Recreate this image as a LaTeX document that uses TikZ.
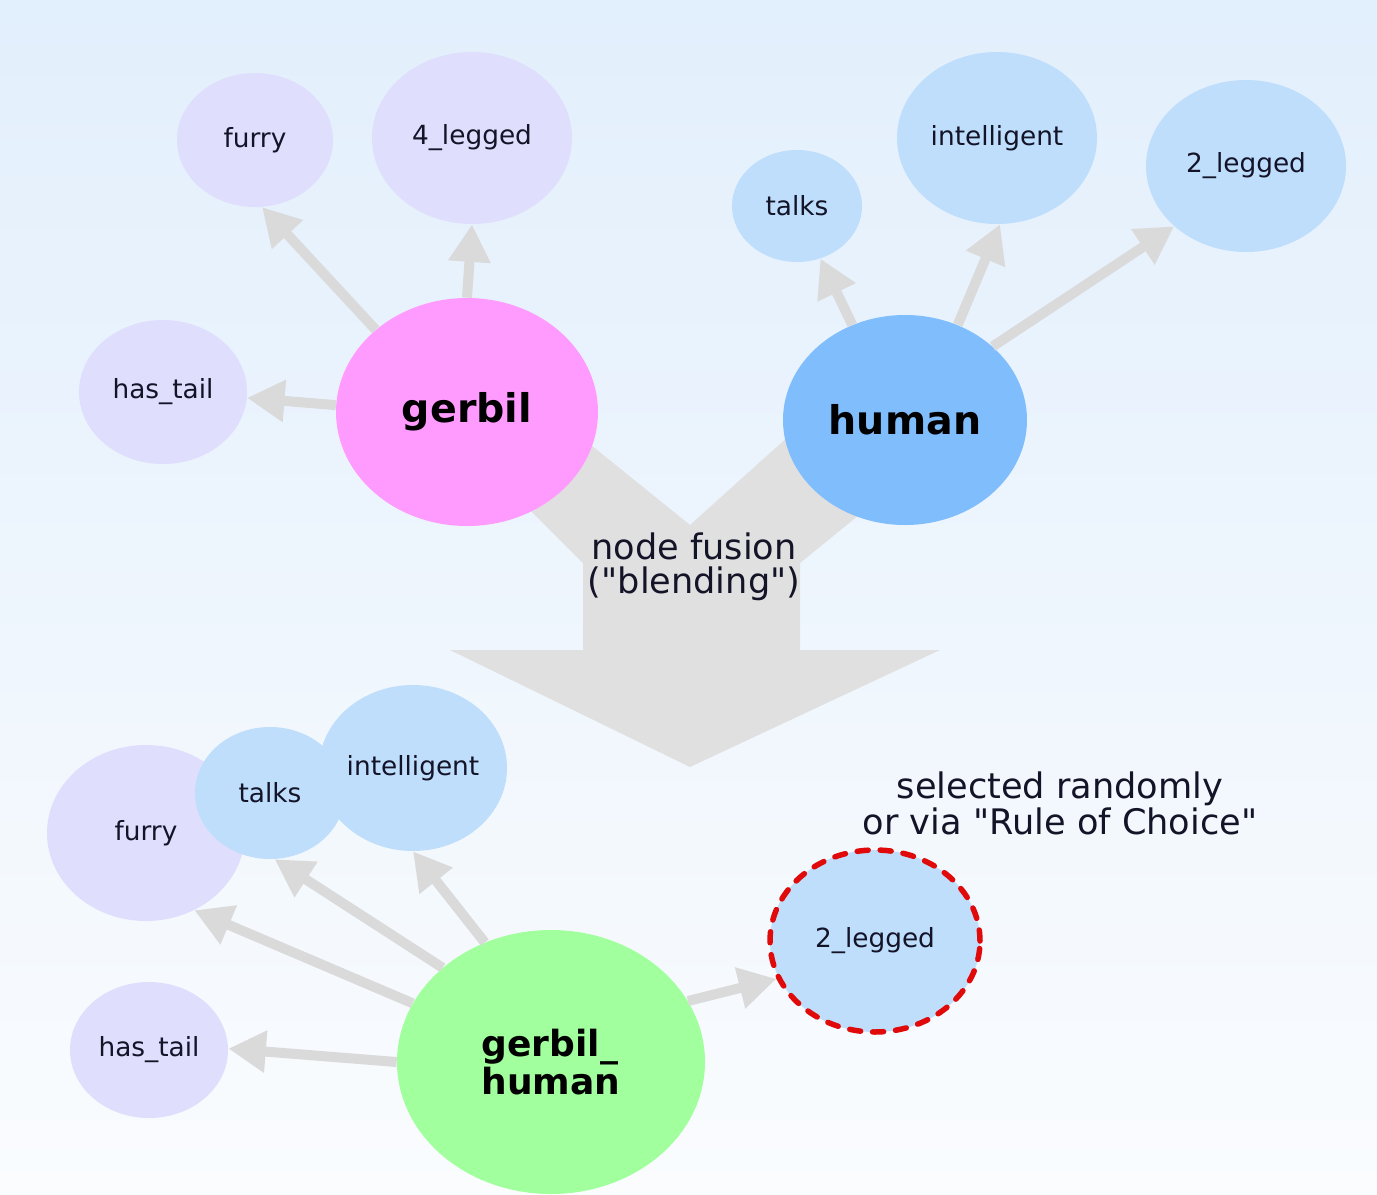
\documentclass[tikz,border=0pt]{standalone}
\usepackage{fontspec}
\setmainfont{DejaVu Sans}
\usepackage{tikz}
\usetikzlibrary{shapes.geometric,arrows.meta}

\definecolor{bgtop}{HTML}{E2EFFC}
\definecolor{bgbot}{HTML}{FAFCFE}
\definecolor{lav}{HTML}{E0DEFD}
\definecolor{lblue}{HTML}{BEDEFC}
\definecolor{hblue}{HTML}{7FBDFD}
\definecolor{pink}{HTML}{FF9BFF}
\definecolor{green}{HTML}{A2FF9D}
\definecolor{arr}{HTML}{DADADA}
\definecolor{fus}{HTML}{E0E0E0}
\definecolor{txt}{HTML}{141428}
\definecolor{dashred}{HTML}{E00A0A}

\begin{document}
\begin{tikzpicture}[x=0.2mm,y=-0.2mm,
  blob/.style={ellipse,inner sep=0pt,text=txt,font=\fontsize{15}{18}\selectfont},
  sz/.style 2 args={minimum width=#1*0.4mm,minimum height=#2*0.4mm},
  big/.style={blob,text=black,font=\fontsize{22.5}{24}\selectfont\bfseries},
  link/.style={draw=arr,line width=2mm,-{Triangle[length=7.5mm,width=8mm]}}]
\useasboundingbox (0,0) rectangle (1377,1195);
\shade[top color=bgtop,bottom color=bgbot] (0,0) rectangle (1377,1195);

% the big fusion arrow
\fill[fus] (583,650) -- (583,563) -- (490,470) -- (560,420) -- (690,525)
  -- (810,417) -- (870,506) -- (800,563) -- (800,650) -- (940,650)
  -- (690,767) -- (450,650) -- cycle;
\node[font=\fontsize{20}{19.5}\selectfont,align=center,text=txt] (fusion) at (694,567) {node fusion\\(\textquotedbl blending\textquotedbl)};

% gerbil
\node[blob,fill=lav,sz={78}{67}] (gfurry) at (255,140) {furry};
\node[blob,fill=lav,sz={100}{86}] (gfour) at (472,138) {4\_legged};
\node[blob,fill=lav,sz={84}{72}] (gtail) at (163,392) {has\_tail};
\node[big,fill=pink,sz={131}{114}] (gerbil) at (467,412) {gerbil};
\draw[link] (gerbil.138) -- (gfurry.-84);
\draw[link] (gerbil.90) -- (gfour.-90);
\draw[link] (gerbil.177) -- (gtail.-4);

% human
\node[blob,fill=lblue,sz={65}{56}] (htalks) at (797,206) {talks};
\node[blob,fill=lblue,sz={100}{86}] (hintel) at (997,138) {intelligent};
\node[blob,fill=lblue,sz={100}{86}] (htwo) at (1246,166) {2\_legged};
\node[big,fill=hblue,sz={122}{105}] (human) at (905,420) {human};
\draw[link] (human.119) -- (htalks.-66);
\draw[link] (human.61) -- (hintel.-88);
\draw[link] (human.40) -- (htwo.-140);

% gerbil_human
\node[blob,fill=lav,sz={99}{88}] (bfurry) at (146,833) {furry};
\node[blob,fill=lblue,sz={75}{66}] (btalks) at (270,793) {talks};
\node[blob,fill=lblue,sz={94}{83}] (bintel) at (413,768) {intelligent};
\node[blob,fill=lav,sz={79}{68}] (btail) at (149,1050) {has\_tail};
\node[big,fill=green,sz={154}{132},align=left,font=\fontsize{20.5}{20}\selectfont\bfseries] (gh) at (551,1062) {gerbil\_\\human};
\node[blob,fill=lblue,sz={105}{91},draw=dashred,line width=1.1mm,line cap=round,dash pattern=on 2.2mm off 2.4mm] (btwo) at (875,941) {2\_legged};
\draw[link] (gh.157) -- (bfurry.-58);
\draw[link] (gh.139) -- (btalks.-86);
\draw[link] (gh.119) -- (bintel.-90);
\draw[link] (gh.180) -- (btail.1);
\draw[link] (gh.24) -- (btwo.-159);

\node[font=\fontsize{20}{20.5}\selectfont,align=center,text=txt] (choice) at (1060,803) {selected randomly\\or via \textquotedbl Rule of Choice\textquotedbl};
\end{tikzpicture}
\end{document}
